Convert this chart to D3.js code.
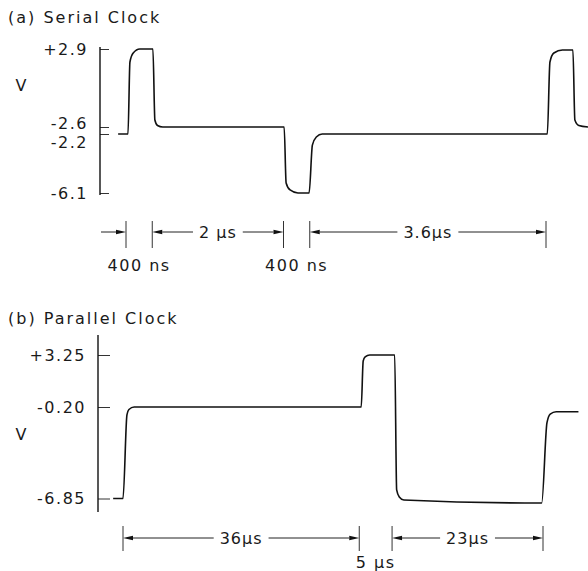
<!DOCTYPE html>
<html>
<head>
<meta charset="utf-8">
<script src="https://cdn.jsdelivr.net/npm/d3@7"></script>
<style>
  body { margin: 0; background: #fff; }
  svg { display: block; font-family: "DejaVu Sans", sans-serif; }
  text { fill: #1a1a1a; }
</style>
</head>
<body>
<svg id="chart" width="588" height="571"></svg>
<script>
'use strict';

// (a) Serial clock: labelled levels (V), trace breakpoints (time in µs, volts), timing marks (µs)
const serialLevels = [-6.1, -2.6, -2.2, 2.9];
const serialLevelLabels = ['-6.1', '-2.6', '-2.2', '+2.9'];
const serialTime  = [-0.12, 0.03, 0.06, 0.11, 0.21, 0.41, 0.44, 0.48, 0.56, 2.41, 2.44, 2.50, 2.62, 2.79, 2.84, 2.90, 2.99, 6.42, 6.46, 6.52, 6.65, 6.81, 6.84, 6.90, 7.04];
const serialVolts = [-2.2, -2.2, 2.12, 2.66, 2.9, 2.9, -1.36, -1.69, -2.6, -2.6, -5.57, -5.94, -6.1, -6.1, -3.56, -3.13, -2.2, -2.2, 2.12, 2.66, 2.84, 2.84, -1.36, -1.69, -2.6];
const serialEdges = [0, 0.4, 2.4, 2.8, 6.4];
const serialSpanLabels = ['400 ns', '2 µs', '400 ns', '3.6µs'];

// (b) Parallel clock
const parallelLevels = [-6.85, -0.20, 3.25];
const parallelLevelLabels = ['-6.85', '-0.20', '+3.25'];
const parallelTime  = [-1.5, 0, 0.6, 0.9, 1.7, 36.3, 36.6, 36.9, 37.6, 41.4, 41.7, 42.1, 42.8, 63.8, 64.6, 65.1, 66.0, 69.4];
const parallelVolts = [-6.85, -6.85, -0.78, -0.38, -0.2, -0.2, 2.85, 3.12, 3.25, 3.25, -6.23, -6.74, -6.96, -7.18, -1.36, -0.71, -0.54, -0.54];
const parallelEdges = [0, 36, 41, 64];
const parallelSpanLabels = ['36µs', '5 µs', '23µs'];

const TICK_FONT = 16;
const LABEL_GAP = 19;
const ARROW_LEN = 10;
const ARROW_HALF = 2.2;
const OUTSIDE_LEAD = 25;

const panels = [
    {
        title: '(a) Serial Clock', titleY: 23,
        levels: serialLevels, levelLabels: serialLevelLabels,
        time: serialTime, volts: serialVolts,
        edges: serialEdges, spanLabels: serialSpanLabels,
        axisX: 100, levelRange: [193, 127, 134, 49], axisExtent: [47, 195], tick: 9,
        timeDomain: [0, 6.4], timeRange: [126, 546],
        vY: 85, dimY: 232, extTop: 221, extBottom: 248, belowY: 271
    },
    {
        title: '(b) Parallel Clock', titleY: 324,
        levels: parallelLevels, levelLabels: parallelLevelLabels,
        time: parallelTime, volts: parallelVolts,
        edges: parallelEdges, spanLabels: parallelSpanLabels,
        axisX: 98, levelRange: [498.5, 407, 355], axisExtent: [335, 512], tick: 12,
        timeDomain: [0, 64], timeRange: [123, 543],
        vY: 434, dimY: 538, extTop: 526, extBottom: 551, belowY: 568
    }
];

const svg = d3.select('#chart');

function arrow(g, x, y, dir) {
    // dir = -1 points left, +1 points right; tip sits at x
    const b = x - dir * ARROW_LEN;
    g.append('path')
        .attr('d', `M${x},${y}L${b},${y - ARROW_HALF}L${b},${y + ARROW_HALF}Z`)
        .attr('fill', '#111');
}

function hline(g, x1, x2, y) {
    g.append('line')
        .attr('x1', x1).attr('x2', x2)
        .attr('y1', y).attr('y2', y)
        .attr('stroke', '#222').attr('stroke-width', 1);
}

function drawPanel(p) {
    const g = svg.append('g');

    g.append('text')
        .attr('x', 8).attr('y', p.titleY)
        .attr('font-size', 16)
        .attr('letter-spacing', 2)
        .text(p.title);

    const x = d3.scaleLinear().domain(p.timeDomain).range(p.timeRange);
    const y = d3.scaleLinear().domain(p.levels).range(p.levelRange);

    // level axis: ticks point into the plot, labels on the left
    const axis = d3.axisLeft(y)
        .tickValues(p.levels)
        .tickFormat((d, i) => p.levelLabels[i])
        .tickSizeInner(-p.tick)
        .tickSizeOuter(0)
        .tickPadding(12);

    const gA = g.append('g')
        .attr('transform', `translate(${p.axisX},0)`)
        .call(axis);
    gA.select('.domain').remove();
    gA.selectAll('.tick line').attr('stroke', '#333').attr('stroke-width', 1);
    gA.selectAll('.tick text')
        .attr('font-size', TICK_FONT)
        .attr('font-family', '"DejaVu Sans", sans-serif')
        .attr('letter-spacing', 1.5)
        .attr('fill', '#1a1a1a');

    // spread labels that sit too close together
    const ticks = gA.selectAll('.tick').nodes()
        .map((n) => ({n, y: y(d3.select(n).datum())}))
        .sort((a, b) => a.y - b.y);
    for (let i = 1; i < ticks.length; i++) {
        const gap = ticks[i].y - ticks[i - 1].y;
        if (gap < LABEL_GAP) {
            const need = LABEL_GAP - gap;
            d3.select(ticks[i - 1].n).select('text').attr('y', -need / 3);
            d3.select(ticks[i].n).select('text').attr('y', need * 2 / 3);
        }
    }

    g.append('line')
        .attr('x1', p.axisX).attr('x2', p.axisX)
        .attr('y1', p.axisExtent[0]).attr('y2', p.axisExtent[1])
        .attr('stroke', '#111').attr('stroke-width', 1.4);

    g.append('text')
        .attr('x', 21).attr('y', p.vY)
        .attr('dy', '0.35em')
        .attr('text-anchor', 'middle')
        .attr('font-size', TICK_FONT)
        .text('V');

    // trace
    const line = d3.line()
        .x((i) => x(p.time[i]))
        .y((i) => y(p.volts[i]))
        .curve(d3.curveMonotoneX);

    g.append('path')
        .datum(d3.range(p.time.length))
        .attr('d', line)
        .attr('fill', 'none')
        .attr('stroke', '#111')
        .attr('stroke-width', 1.6)
        .attr('stroke-linejoin', 'round');

    // timing marks
    const gD = g.append('g');
    p.edges.forEach((t) => {
        gD.append('line')
            .attr('x1', x(t)).attr('x2', x(t))
            .attr('y1', p.extTop).attr('y2', p.extBottom)
            .attr('stroke', '#333').attr('stroke-width', 1);
    });

    const spans = p.spanLabels.map((label, i) => {
        const x0 = x(p.edges[i]);
        const x1 = x(p.edges[i + 1]);
        return {label, x0, x1, wide: x1 - x0 > 60};
    });

    spans.forEach((s, i) => {
        const mid = (s.x0 + s.x1) / 2;
        if (s.wide) {
            const txt = gD.append('text')
                .attr('x', mid).attr('y', p.dimY)
                .attr('dy', '0.35em')
                .attr('text-anchor', 'middle')
                .attr('font-size', TICK_FONT)
                .attr('letter-spacing', 1)
                .text(s.label);
            const w = txt.node().getComputedTextLength();
            arrow(gD, s.x0, p.dimY, -1);
            arrow(gD, s.x1, p.dimY, 1);
            hline(gD, s.x0 + ARROW_LEN, mid - w / 2 - 6, p.dimY);
            hline(gD, mid + w / 2 + 6, s.x1 - ARROW_LEN, p.dimY);
        } else {
            gD.append('text')
                .attr('x', mid).attr('y', p.belowY)
                .attr('text-anchor', 'middle')
                .attr('font-size', TICK_FONT)
                .attr('letter-spacing', 1.5)
                .text(s.label);
            const prev = spans[i - 1];
            const next = spans[i + 1];
            if (!prev || !prev.wide) {
                arrow(gD, s.x0, p.dimY, 1);
                hline(gD, s.x0 - OUTSIDE_LEAD, s.x0 - ARROW_LEN, p.dimY);
            }
            if (!next || !next.wide) {
                arrow(gD, s.x1, p.dimY, -1);
                hline(gD, s.x1 + ARROW_LEN, s.x1 + OUTSIDE_LEAD, p.dimY);
            }
        }
    });
}

panels.forEach(drawPanel);
</script>
</body>
</html>
